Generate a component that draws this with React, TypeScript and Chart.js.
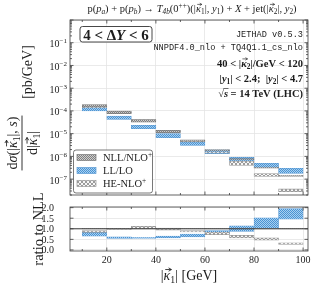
import React, { useEffect, useRef } from 'react';
import { Chart, registerables } from 'chart.js';

Chart.register(...registerables);

// ---------------- data ----------------
const binLo = [10, 20, 30, 40, 50, 60, 70, 80, 90];
const binHi = [20, 30, 40, 50, 60, 70, 80, 90, 100];

// main panel bands [pb/GeV]
const nllLo = [1.5e-4, 7.6e-5, 3.2e-5, 1.1e-5, 4.6e-6, 1.75e-6, 7.0e-7, 3.0e-7, 1.33e-7];
const nllHi = [1.9e-4, 9.8e-5, 4.2e-5, 1.4e-5, 5.4e-6, 2.0e-6, 8.0e-7, 3.4e-7, 1.45e-7];
const llLo = [1.0e-4, 4.2e-5, 1.65e-5, 6.6e-6, 3.0e-6, 1.32e-6, 6.2e-7, 3.2e-7, 1.8e-7];
const llHi = [1.5e-4, 5.9e-5, 2.35e-5, 1.0e-5, 4.3e-6, 1.95e-6, 9.1e-7, 5.0e-7, 3.0e-7];
const heLo = [1.4e-4, 8.2e-5, 3.7e-5, 1.2e-5, 4.3e-6, 1.4e-6, 4.0e-7, 1.3e-7, 2.8e-8];
const heHi = [1.55e-4, 9.0e-5, 4.2e-5, 1.35e-5, 4.8e-6, 1.6e-6, 6.2e-7, 1.75e-7, 3.7e-8];

// ratio panel bands
const rNllLo = [0.99, 0.99, 0.99, 0.99, 0.99, 0.99, 0.99, 0.99, 0.99];
const rNllHi = [1.01, 1.01, 1.01, 1.01, 1.01, 1.01, 1.01, 1.01, 1.01];
const rLlLo = [0.65, 0.55, 0.54, 0.57, 0.62, 0.76, 0.88, 1.03, 1.46];
const rLlHi = [0.83, 0.62, 0.6, 0.66, 0.75, 0.91, 1.14, 1.52, 1.95];
const rHeLo = [0.83, 0.97, 1.0, 0.94, 0.85, 0.72, 0.57, 0.46, 0.26];
const rHeHi = [0.91, 1.02, 1.12, 1.03, 0.92, 0.85, 0.69, 0.57, 0.34];

const xTicks = [20, 40, 60, 80, 100];
const xMinorTicks = [10, 30, 50, 70, 90];
const yExps = [-1, -2, -3, -4, -5, -6, -7];
const ratioTicks = [0, 0.5, 1, 1.5, 2];
const ratioTickLabels = ['0.0', '0.5', '1.0', '1.5', '2.0'];

// ---------------- helpers ----------------
const SERIF = '"Liberation Serif", "DejaVu Serif", serif';
const MONO = '"Liberation Mono", "DejaVu Sans Mono", monospace';
const TXT = '#1c1c1c';

type Seg = { t: string; sub?: boolean; sup?: boolean; it?: boolean; vec?: boolean; ov?: boolean; b?: boolean };

function drawRich(
  ctx: CanvasRenderingContext2D, segs: Seg[], x: number, y: number, size: number,
  align: 'left' | 'center' | 'right', fam: string, bold = false, rot = 0, color = TXT,
): number {
  ctx.save();
  ctx.translate(x, y);
  if (rot) ctx.rotate(rot);
  const font = (s: Seg) => {
    const sz = s.sub || s.sup ? size * 0.7 : size;
    ctx.font = `${s.it ? 'italic ' : ''}${(s.b ?? bold) ? 'bold ' : ''}${sz.toFixed(2)}px ${fam}`;
    return sz;
  };
  const ws = segs.map((s) => { font(s); return ctx.measureText(s.t).width; });
  const total = ws.reduce((a, b) => a + b, 0);
  let cx = align === 'left' ? 0 : align === 'center' ? -total / 2 : -total;
  const base = size * 0.35;
  ctx.fillStyle = color;
  ctx.strokeStyle = color;
  ctx.textBaseline = 'alphabetic';
  ctx.textAlign = 'left';
  segs.forEach((s, i) => {
    const sz = font(s);
    const dy = base + (s.sub ? size * 0.22 : s.sup ? -size * 0.38 : 0);
    ctx.fillText(s.t, cx, dy);
    const w = ws[i];
    if (s.vec) {
      const ay = dy - sz * 0.74;
      const x0 = cx + sz * 0.12;
      const x1 = cx + w + sz * 0.08;
      ctx.lineWidth = Math.max(0.6, size * 0.06);
      ctx.beginPath();
      ctx.moveTo(x0, ay);
      ctx.lineTo(x1, ay);
      ctx.moveTo(x1 - sz * 0.2, ay - sz * 0.12);
      ctx.lineTo(x1, ay);
      ctx.lineTo(x1 - sz * 0.2, ay + sz * 0.12);
      ctx.stroke();
    }
    if (s.ov) {
      const ay = dy - sz * 0.78;
      ctx.lineWidth = Math.max(0.6, size * 0.06);
      ctx.beginPath();
      ctx.moveTo(cx - 0.5, ay);
      ctx.lineTo(cx + w + 0.5, ay);
      ctx.stroke();
    }
    cx += w;
  });
  ctx.restore();
  return total;
}

function makePattern(bg: string, fg: string, cells: number[][], size: number): CanvasPattern | string {
  const c = document.createElement('canvas');
  c.width = size;
  c.height = size;
  const g = c.getContext('2d');
  if (!g) return bg;
  g.fillStyle = bg;
  g.fillRect(0, 0, size, size);
  g.fillStyle = fg;
  cells.forEach(([x, y]) => g.fillRect(x, y, 1, 1));
  return g.createPattern(c, 'repeat') || bg;
}

function roundRect(ctx: CanvasRenderingContext2D, x: number, y: number, w: number, h: number, r: number) {
  ctx.beginPath();
  ctx.moveTo(x + r, y);
  ctx.lineTo(x + w - r, y);
  ctx.arcTo(x + w, y, x + w, y + r, r);
  ctx.lineTo(x + w, y + h - r);
  ctx.arcTo(x + w, y + h, x + w - r, y + h, r);
  ctx.lineTo(x + r, y + h);
  ctx.arcTo(x, y + h, x, y + h - r, r);
  ctx.lineTo(x, y + r);
  ctx.arcTo(x, y, x + r, y, r);
  ctx.closePath();
}

function band(lo: number[], hi: number[], bg: any, border: string, bw: number) {
  return {
    type: 'bar' as const,
    data: binLo.map((l, i) => ({ x: (l + binHi[i]) / 2, y: [lo[i], hi[i]] })),
    backgroundColor: bg,
    borderColor: border,
    borderWidth: bw,
    borderSkipped: false,
    grouped: false,
    barPercentage: 1,
    categoryPercentage: 1,
  };
}

function drawFrameTicks(ctx: CanvasRenderingContext2D, chart: any, yMajor: number[], yMinor: number[]) {
  const { left, right, top, bottom } = chart.chartArea;
  const xs = chart.scales.x;
  const ys = chart.scales.y;
  ctx.save();
  ctx.strokeStyle = '#3c3c3c';
  ctx.lineWidth = 0.8;
  const tick = (x0: number, y0: number, x1: number, y1: number) => {
    ctx.beginPath(); ctx.moveTo(x0, y0); ctx.lineTo(x1, y1); ctx.stroke();
  };
  xTicks.forEach((v) => {
    const p = xs.getPixelForValue(v);
    tick(p, bottom, p, bottom - 3.5);
    tick(p, top, p, top + 3.5);
  });
  xMinorTicks.forEach((v) => {
    const p = xs.getPixelForValue(v);
    tick(p, bottom, p, bottom - 2);
    tick(p, top, p, top + 2);
  });
  yMajor.forEach((v) => {
    const p = ys.getPixelForValue(v);
    if (p < top - 0.5 || p > bottom + 0.5) return;
    tick(left, p, left + 3.5, p);
    tick(right, p, right - 3.5, p);
  });
  yMinor.forEach((v) => {
    const p = ys.getPixelForValue(v);
    if (p < top || p > bottom) return;
    tick(left, p, left + 2, p);
    tick(right, p, right - 2, p);
  });
  ctx.strokeRect(left, top, right - left, bottom - top);
  ctx.restore();
}

// ---------------- component ----------------
export default function App() {
  const mainRef = useRef<HTMLCanvasElement>(null);
  const ratioRef = useRef<HTMLCanvasElement>(null);

  useEffect(() => {
    if (!mainRef.current || !ratioRef.current) return;

    const pNll = makePattern('#cdcdcd', '#808080', [[0, 0], [1, 1]], 2);
    const pLl = makePattern('#a8d0f0', '#4a93d3', [[0, 0], [1, 1]], 2);
    const pHe = makePattern('#f6f6f6', '#9c9c9c', [[0, 0], [1, 1], [2, 2], [3, 3], [3, 0], [2, 1], [1, 2], [0, 3]], 4);

    const gridColor = '#e4e4e4';

    const logMajor = [1e-8, 1e-7, 1e-6, 1e-5, 1e-4, 1e-3, 1e-2, 1e-1, 1];
    const logMinor: number[] = [];
    for (let e = -8; e <= -1; e++) for (let k = 2; k <= 9; k++) logMinor.push(k * Math.pow(10, e));

    const mainDeco = {
      id: 'mainDeco',
      afterDraw(chart: any) {
        const ctx: CanvasRenderingContext2D = chart.ctx;
        const ys = chart.scales.y;
        drawFrameTicks(ctx, chart, logMajor, logMinor);

        // y tick labels
        yExps.forEach((e) => {
          const p = ys.getPixelForValue(Math.pow(10, e));
          drawRich(ctx, [{ t: '10' }, { t: '\u2212' + Math.abs(e), sup: true }], 67, p + 1, 10, 'right', SERIF);
        });

        // top title
        drawRich(ctx, [
          { t: 'p(' }, { t: 'p', it: true }, { t: 'a', it: true, sub: true }, { t: ') + p(' },
          { t: 'p', it: true }, { t: 'b', it: true, sub: true }, { t: ') \u2192 ' },
          { t: 'T', it: true }, { t: '4b', it: true, sub: true }, { t: '(0' }, { t: '++', sup: true },
          { t: ')(|' }, { t: '\u03ba', it: true, vec: true }, { t: '1', sub: true }, { t: '|, ' },
          { t: 'y', it: true }, { t: '1', sub: true }, { t: ') + ' }, { t: 'X', it: true },
          { t: ' + jet(|' }, { t: '\u03ba', it: true, vec: true }, { t: '2', sub: true }, { t: '|, ' },
          { t: 'y', it: true }, { t: '2', sub: true }, { t: ')' },
        ], 192, 8.5, 10.5, 'center', SERIF);

        // rapidity box
        ctx.save();
        roundRect(ctx, 80, 26.5, 72, 15.5, 2.5);
        ctx.fillStyle = '#ffffff';
        ctx.fill();
        ctx.strokeStyle = '#333';
        ctx.lineWidth = 0.9;
        ctx.stroke();
        ctx.restore();
        drawRich(ctx, [{ t: '4 < \u0394' }, { t: 'Y', it: true }, { t: ' < 6' }], 116, 34.5, 15, 'center', SERIF, true);

        // annotations
        ctx.save();
        ctx.fillStyle = TXT;
        ctx.font = `8.6px ${MONO}`;
        ctx.textAlign = 'right';
        ctx.textBaseline = 'middle';
        ctx.fillText('JETHAD v0.5.3', 303, 35);
        ctx.fillText('NNPDF4.0_nlo + TQ4Q1.1_cs_nlo', 303, 48);
        ctx.restore();
        drawRich(ctx, [{ t: '40 < |' }, { t: '\u03ba', it: true, vec: true }, { t: '2', sub: true }, { t: '|/GeV < 120' }], 303, 63, 10.5, 'right', SERIF, true);
        drawRich(ctx, [
          { t: '|' }, { t: 'y', it: true }, { t: '1', sub: true }, { t: '| < 2.4;  |' },
          { t: 'y', it: true }, { t: '2', sub: true }, { t: '| < 4.7' },
        ], 303, 78, 10.5, 'right', SERIF, true);
        drawRich(ctx, [{ t: '\u221a' }, { t: 's', it: true, ov: true }, { t: ' = 14 TeV (LHC)' }], 303, 93, 10.5, 'right', SERIF, true);

        // y title (fraction)
        const nw = drawRich(ctx, [
          { t: 'd' }, { t: '\u03c3', it: true }, { t: '(|' }, { t: '\u03ba', it: true, vec: true },
          { t: '1', sub: true }, { t: '|, ' }, { t: 's', it: true }, { t: ')' },
        ], 12, 143, 14, 'center', SERIF, false, -Math.PI / 2);
        ctx.save();
        ctx.strokeStyle = TXT;
        ctx.lineWidth = 0.9;
        ctx.beginPath();
        ctx.moveTo(22, 143 - nw / 2 - 1);
        ctx.lineTo(22, 143 + nw / 2 + 1);
        ctx.stroke();
        ctx.restore();
        drawRich(ctx, [{ t: 'd|' }, { t: '\u03ba', it: true, vec: true }, { t: '1', sub: true }, { t: '|' }], 32.5, 143, 14, 'center', SERIF, false, -Math.PI / 2);
        drawRich(ctx, [{ t: '[pb/GeV]' }], 27, 72, 14, 'center', SERIF, false, -Math.PI / 2);

        // legend
        ctx.save();
        roundRect(ctx, 73.5, 150, 79, 43, 2.5);
        ctx.fillStyle = 'rgba(255,255,255,0.9)';
        ctx.fill();
        ctx.strokeStyle = '#555';
        ctx.lineWidth = 0.8;
        ctx.stroke();
        const items: [any, string, Seg[]][] = [
          [pNll, '#777', [{ t: 'NLL/NLO' }, { t: '+', sup: true }]],
          [pLl, '#5b9bd5', [{ t: 'LL/LO' }]],
          [pHe, '#999', [{ t: 'HE-NLO' }, { t: '+', sup: true }]],
        ];
        items.forEach(([pat, bc, segs], i) => {
          const cy = 157.5 + i * 13;
          ctx.fillStyle = pat;
          ctx.fillRect(77, cy - 3, 19, 6);
          ctx.strokeStyle = bc;
          ctx.lineWidth = 0.7;
          ctx.strokeRect(77, cy - 3, 19, 6);
          drawRich(ctx, segs, 103, cy, 10.5, 'left', SERIF);
        });
        ctx.restore();
      },
    };

    const ratioDeco = {
      id: 'ratioDeco',
      afterDatasetsDraw(chart: any) {
        const ctx: CanvasRenderingContext2D = chart.ctx;
        const { left, right } = chart.chartArea;
        const p = chart.scales.y.getPixelForValue(1);
        ctx.save();
        ctx.strokeStyle = '#3a3a3a';
        ctx.lineWidth = 1;
        ctx.beginPath();
        ctx.moveTo(left, p);
        ctx.lineTo(right, p);
        ctx.stroke();
        ctx.restore();
      },
      afterDraw(chart: any) {
        const ctx: CanvasRenderingContext2D = chart.ctx;
        const xs = chart.scales.x;
        const ys = chart.scales.y;
        drawFrameTicks(ctx, chart, ratioTicks, []);
        ratioTicks.forEach((v, i) => {
          drawRich(ctx, [{ t: ratioTickLabels[i] }], 54, ys.getPixelForValue(v), 10, 'right', SERIF);
        });
        xTicks.forEach((v) => {
          drawRich(ctx, [{ t: String(v) }], xs.getPixelForValue(v), 79, 10, 'center', SERIF);
        });
        drawRich(ctx, [{ t: '|' }, { t: '\u03ba', it: true, vec: true }, { t: '1', sub: true }, { t: '| [GeV]' }], 189, 95, 14, 'center', SERIF);
        drawRich(ctx, [{ t: 'ratio to NLL' }], 38, 49, 14.5, 'center', SERIF, false, -Math.PI / 2);
      },
    };

    const xScale = (extra: any = {}) => ({
      type: 'linear' as const,
      min: 5,
      max: 102,
      offset: false,
      grid: { color: gridColor, lineWidth: 0.8, drawTicks: false, offset: false },
      border: { display: false },
      ticks: { display: false },
      afterBuildTicks: (s: any) => { s.ticks = xTicks.map((v) => ({ value: v })); },
      afterFit: (s: any) => { s.height = 0; },
      ...extra,
    });

    const mainChart = new Chart(mainRef.current, {
      type: 'bar',
      data: {
        datasets: [
          band(nllLo, nllHi, pNll, '#777777', 0.8),
          band(heLo, heHi, pHe, '#9a9a9a', 0.8),
          band(llLo, llHi, pLl, '#5b9bd5', 0.6),
        ] as any,
      },
      options: {
        animation: false,
        responsive: false,
        maintainAspectRatio: false,
        events: [],
        layout: { padding: { left: 70, right: 16, top: 20, bottom: 5 } },
        plugins: { legend: { display: false }, tooltip: { enabled: false } },
        scales: {
          x: xScale(),
          y: {
            type: 'logarithmic',
            min: 2e-8,
            max: 1,
            grid: { color: gridColor, lineWidth: 0.8, drawTicks: false },
            border: { display: false },
            ticks: { display: false },
            afterBuildTicks: (s: any) => { s.ticks = logMajor.map((v) => ({ value: v })); },
            afterFit: (s: any) => { s.width = 0; },
          },
        },
      } as any,
      plugins: [mainDeco],
    });

    const ratioChart = new Chart(ratioRef.current, {
      type: 'bar',
      data: {
        datasets: [
          band(rNllLo, rNllHi, pNll, '#777777', 0.6),
          band(rHeLo, rHeHi, pHe, '#9a9a9a', 0.8),
          band(rLlLo, rLlHi, pLl, '#5b9bd5', 0.6),
        ] as any,
      },
      options: {
        animation: false,
        responsive: false,
        maintainAspectRatio: false,
        events: [],
        layout: { padding: { left: 70, right: 16, top: 27, bottom: 38 } },
        plugins: { legend: { display: false }, tooltip: { enabled: false } },
        scales: {
          x: xScale(),
          y: {
            type: 'linear',
            min: -0.05,
            max: 2.03,
            grid: { color: gridColor, lineWidth: 0.8, drawTicks: false },
            border: { display: false },
            ticks: { display: false },
            afterBuildTicks: (s: any) => { s.ticks = ratioTicks.map((v) => ({ value: v })); },
            afterFit: (s: any) => { s.width = 0; },
          },
        },
      } as any,
      plugins: [ratioDeco],
    });

    return () => {
      mainChart.destroy();
      ratioChart.destroy();
    };
  }, []);

  return (
    <div style={{ position: 'fixed', left: 0, top: 0, width: 324, height: 289, background: '#ffffff' }}>
      <canvas ref={mainRef} width={324} height={200} style={{ position: 'absolute', left: 0, top: 0, width: 324, height: 200 }} />
      <canvas ref={ratioRef} width={324} height={109} style={{ position: 'absolute', left: 0, top: 180, width: 324, height: 109 }} />
    </div>
  );
}
